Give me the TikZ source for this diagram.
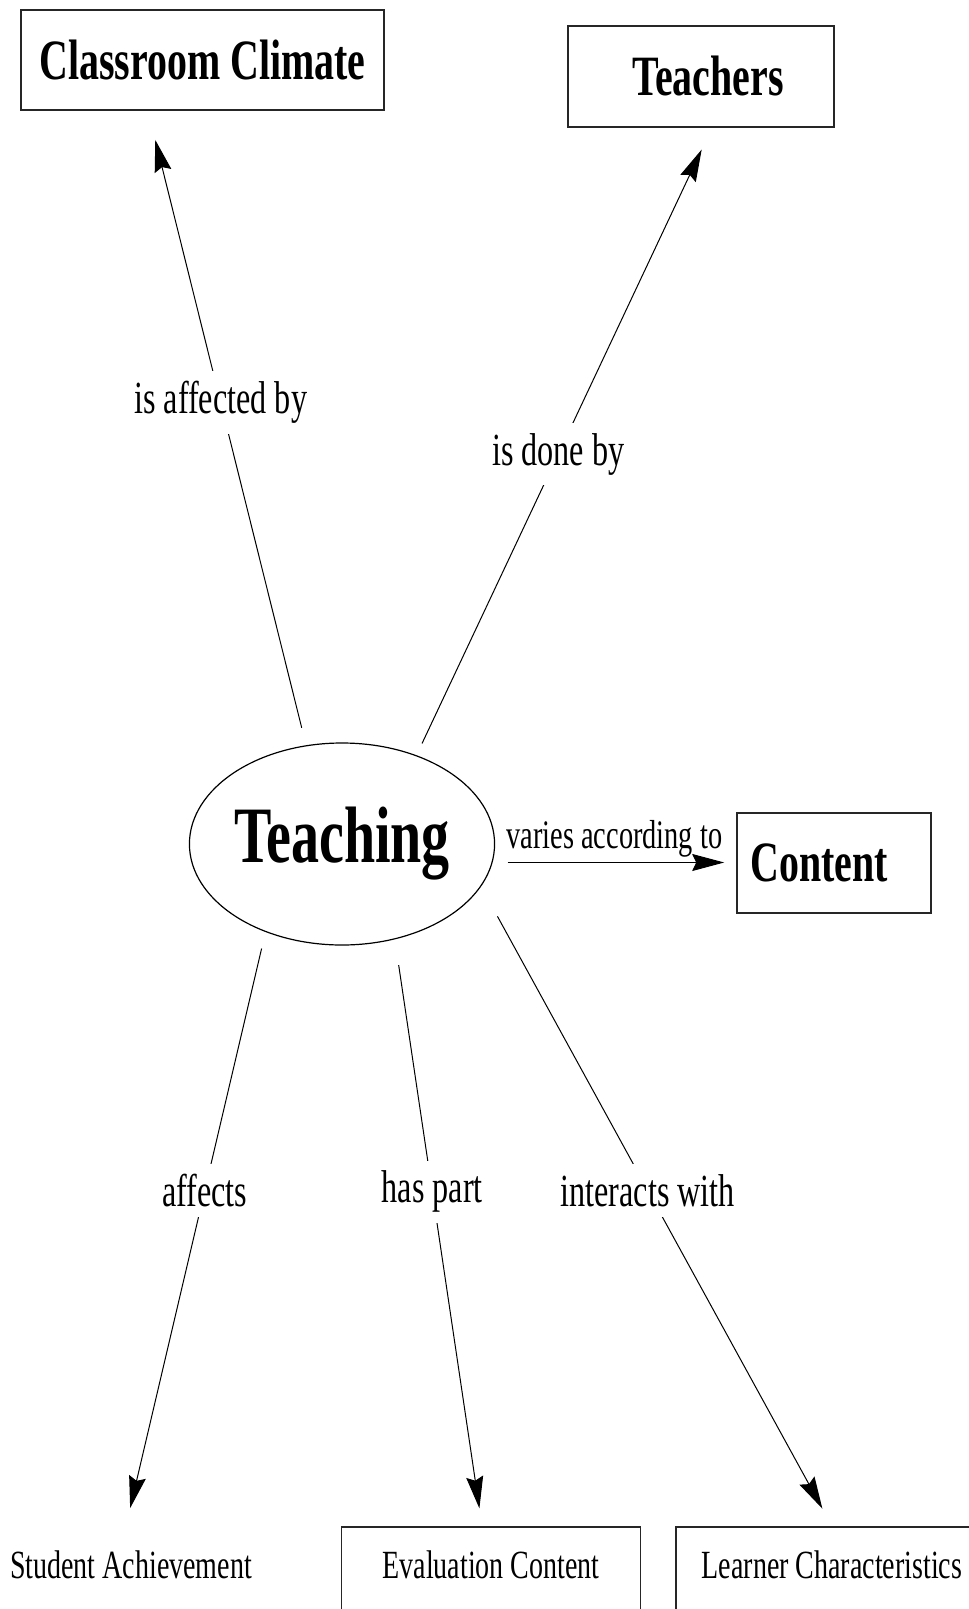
\documentclass[tikz,border=0pt]{standalone}
\usepackage{fontspec}
\setmainfont[FakeStretch=0.7]{Liberation Serif}
\usetikzlibrary{shapes.geometric,arrows.meta}

\begin{document}
\begin{tikzpicture}[x=1pt,y=-1pt,
        concept/.style={draw=black!85,line width=1.6pt,rectangle,inner sep=0pt,font=\bfseries\fontsize{57}{60}\selectfont},
        leaf/.style={draw=black!85,line width=1.6pt,rectangle,inner sep=0pt,text height=51pt,text depth=49pt,anchor=base,font=\fontsize{40}{42}\selectfont},
        link/.style={line width=1pt,-{Stealth[length=32pt,width=17pt,inset=4pt]}},
        lbl/.style={fill=white,inner sep=10pt,font=\fontsize{46}{48}\selectfont}]
        \useasboundingbox (0,0) rectangle (969,1609);
        % concepts
        \node[concept,minimum width=363pt,minimum height=100pt] (climate) at (202.5,60) {Classroom Climate};
        \node[concept,minimum width=266pt,minimum height=101pt] (teachers) at (701,76.5) {\hspace*{14pt}Teachers};
        \node[ellipse,draw,line width=1.2pt,minimum width=302pt,minimum height=202pt,inner sep=0pt,font=\bfseries\fontsize{80}{84}\selectfont] (teach) at (342,844) {Teaching};
        \node[concept,minimum width=194pt,minimum height=100pt] (content) at (834,863) {Content\hspace*{30pt}};
        \node[anchor=base,inner sep=3pt,font=\fontsize{40}{42}\selectfont] (student) at (131,1578) {Student Achievement};
        \node[leaf,minimum width=299pt] (evaluation) at (491,1578) {Evaluation Content};
        \node[leaf,minimum width=312pt] (learner) at (832,1578) {Learner Characteristics};
        % links
        \draw[link,shorten <=18pt,shorten >=30pt] (teach.110) -- node[lbl,pos=0.54] {is affected by} (climate.223);
        \draw[link,shorten <=13pt,shorten >=24pt] (teach.50) -- node[lbl,pos=0.48] {is done by} (teachers.282);
        \draw[link,shorten <=15pt,shorten >=12pt] (teach.353) -- node[anchor=base,inner sep=0pt,yshift=14pt,font=\fontsize{40.5}{42}\selectfont] {varies according to} (teach.353 -| content.west);
        \draw[link,shorten <=17pt,shorten >=40pt] (teach.229) -- node[lbl,pos=0.42] {affects} ([xshift=-10pt]student.north);
        \draw[link,shorten <=26pt,shorten >=18pt] (teach.299) -- node[lbl,pos=0.43] {has part} (evaluation.100);
        \draw[link,shorten <=34pt,shorten >=20pt] (teach.343) -- node[lbl,pos=0.475] {interacts with} (learner.north);
\end{tikzpicture}
\end{document}
